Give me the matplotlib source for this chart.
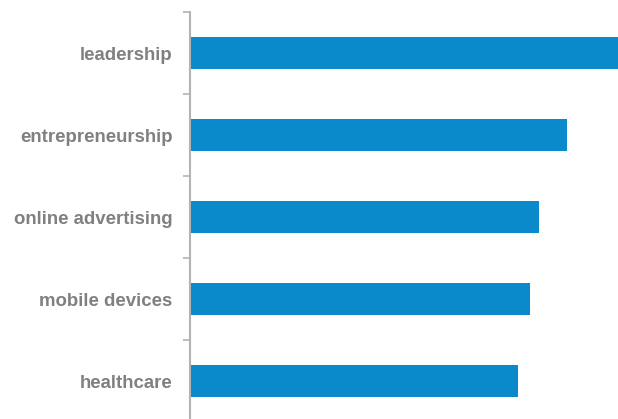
import matplotlib
matplotlib.use("Agg")
import matplotlib.pyplot as plt
from matplotlib.ticker import FixedLocator

categories = ["leadership", "entrepreneurship", "online advertising", "mobile devices", "healthcare"]
values = [100, 88, 81.5, 79.4, 76.6]

bar_color = "#0a8acb"
axis_color = "#b3b3b3"
label_color = "#808080"

W, H = 618, 419
fig = plt.figure(figsize=(W / 100, H / 100), dpi=100)
ax = fig.add_axes([190 / W, -3 / H, 428 / W, 410 / H])

n = len(categories)
pos = list(range(n))
ax.barh(pos, values, height=0.4, color=bar_color)
ax.set_ylim(n - 0.5, -0.5)
ax.set_xlim(0, max(values))

ax.set_yticks(pos)
ax.set_yticklabels(categories, fontsize=13.4, fontweight="bold", color=label_color,
                   family=["Liberation Sans", "DejaVu Sans"])
ax.tick_params(axis="y", which="major", length=0, pad=12.5)
ax.yaxis.set_minor_locator(FixedLocator([p - 0.5 for p in range(n + 1)]))
ax.tick_params(axis="y", which="minor", length=5, width=1.2, color=axis_color)

ax.xaxis.set_visible(False)
for s in ("top", "right", "bottom"):
    ax.spines[s].set_visible(False)
ax.spines["left"].set_color(axis_color)
ax.spines["left"].set_linewidth(1.5)

fig.savefig("out.png", dpi=100)
